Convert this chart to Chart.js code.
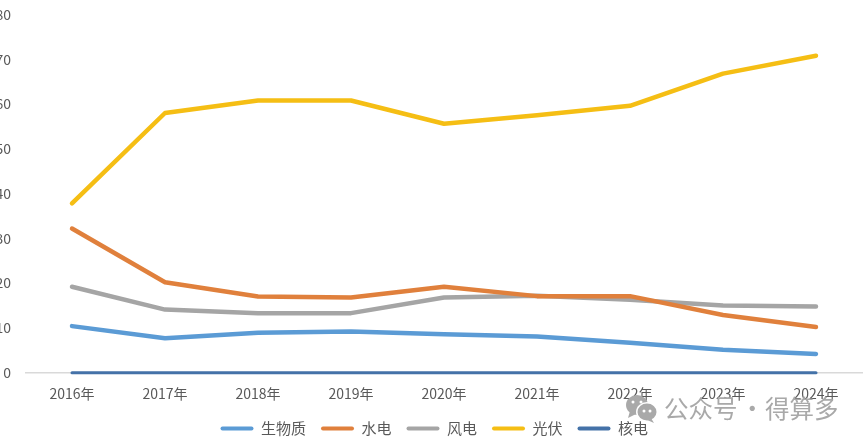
<!DOCTYPE html>
<html>
<head>
<meta charset="utf-8">
<style>
    html, body { margin: 0; padding: 0; background: #fff; }
    #wrap { width: 865px; height: 444px; }
</style>
<script src="https://cdn.jsdelivr.net/npm/chart.js@4/dist/chart.umd.min.js"></script>
</head>
<body>
<div id="wrap"><canvas id="energy-chart"></canvas></div>
<script>
    var years = ["2016年", "2017年", "2018年", "2019年", "2020年", "2021年", "2022年", "2023年", "2024年"];
    var biomass = [10.4, 7.7, 8.9, 9.2, 8.6, 8.1, 6.7, 5.1, 4.2];
    var hydro = [32.2, 20.2, 17.0, 16.8, 19.2, 17.1, 17.1, 12.9, 10.2];
    var wind = [19.2, 14.1, 13.3, 13.3, 16.8, 17.2, 16.3, 15.0, 14.8];
    var solar = [37.8, 58.0, 60.8, 60.8, 55.6, 57.5, 59.6, 66.8, 70.8];
    var nuclear = [0, 0, 0, 0, 0, 0, 0, 0, 0];

    var cjkFont = '"Noto Sans CJK SC", "Noto Sans", sans-serif';
    var textColor = "#595959";

    function lineSet(label, values, color, width) {
        return {
            label: label,
            data: values,
            borderColor: color,
            backgroundColor: color,
            borderWidth: width,
            pointRadius: 0,
            tension: 0,
            clip: false,
            borderCapStyle: "round",
            borderJoinStyle: "round"
        };
    }

    // nudge the legend a little right and down from where the layout puts it
    var legendShift = {
        id: "legendShift",
        afterLayout: function (chart) {
            chart.legend.left += 3;
            chart.legend.right += 3;
            chart.legend.top += 2;
            chart.legend.bottom += 2;
        }
    };

    // account name and logo in the lower right corner
    var watermark = {
        id: "watermark",
        afterDraw: function (chart) {
            var ctx = chart.ctx;
            ctx.save();
            ctx.fillStyle = "#a9a9a9";
            ctx.beginPath();
            ctx.ellipse(637, 405, 11, 10, 0, 0, Math.PI * 2);
            ctx.fill();
            ctx.beginPath();
            ctx.moveTo(630, 411);
            ctx.lineTo(628, 418);
            ctx.lineTo(636, 414);
            ctx.fill();
            ctx.fillStyle = "#fff";
            ctx.beginPath();
            ctx.ellipse(647, 412, 11, 10, 0, 0, Math.PI * 2);
            ctx.fill();
            ctx.fillStyle = "#a9a9a9";
            ctx.beginPath();
            ctx.ellipse(647, 412, 9.5, 8.5, 0, 0, Math.PI * 2);
            ctx.fill();
            ctx.beginPath();
            ctx.moveTo(651, 418);
            ctx.lineTo(654, 423);
            ctx.lineTo(645, 419);
            ctx.fill();
            ctx.fillStyle = "#fff";
            [[633, 402], [641, 402], [644, 411], [650, 411]].forEach(function (p) {
                ctx.beginPath();
                ctx.arc(p[0], p[1], 1.5, 0, Math.PI * 2);
                ctx.fill();
            });
            ctx.fillStyle = "#a9a9a9";
            ctx.font = "24.5px " + cjkFont;
            ctx.textBaseline = "middle";
            ctx.textAlign = "left";
            ctx.fillText("公众号", 664, 409);
            ctx.fillText("·", 740, 409);
            ctx.fillText("得算多", 765, 409);
            ctx.restore();
        }
    };

    new Chart(document.getElementById("energy-chart"), {
        type: "line",
        data: {
            labels: years,
            datasets: [
                lineSet("生物质", biomass, "#5B9BD5", 4.5),
                lineSet("水电", hydro, "#E0803C", 4.5),
                lineSet("风电", wind, "#A5A5A5", 4.5),
                lineSet("光伏", solar, "#F5BE14", 4.5),
                lineSet("核电", nuclear, "#4472A8", 3)
            ]
        },
        options: {
            responsive: true,
            maintainAspectRatio: false,
            animation: false,
            layout: { padding: { top: 14.5, right: 2.5, bottom: 0, left: 0 } },
            plugins: {
                tooltip: { enabled: false },
                legend: {
                    position: "bottom",
                    labels: {
                        boxWidth: 33,
                        boxHeight: 4,
                        useBorderRadius: true,
                        borderRadius: 2,
                        padding: 15,
                        color: textColor,
                        font: { family: cjkFont, size: 15 },
                        generateLabels: function (chart) {
                            return chart.data.datasets.map(function (ds, i) {
                                return {
                                    text: ds.label,
                                    fillStyle: ds.borderColor,
                                    strokeStyle: ds.borderColor,
                                    lineWidth: 0,
                                    fontColor: textColor,
                                    borderRadius: 2,
                                    datasetIndex: i
                                };
                            });
                        }
                    }
                }
            },
            scales: {
                x: {
                    offset: true,
                    afterFit: function (scale) { scale.height = scale.height - 11.5; },
                    grid: { display: false, drawTicks: false },
                    border: { color: "#d9d9d9", width: 1.5 },
                    ticks: {
                        color: textColor,
                        padding: 13,
                        maxRotation: 0,
                        autoSkip: false,
                        font: { family: cjkFont, size: 14 }
                    }
                },
                y: {
                    min: 0,
                    max: 80,
                    afterFit: function (scale) { scale.width = 25.5; },
                    grid: { display: false, drawTicks: true, tickLength: 11.5 },
                    border: { display: false },
                    ticks: {
                        stepSize: 10,
                        color: textColor,
                        padding: 3,
                        font: { family: cjkFont, size: 14 }
                    }
                }
            }
        },
        plugins: [legendShift, watermark]
    });
</script>
</body>
</html>
